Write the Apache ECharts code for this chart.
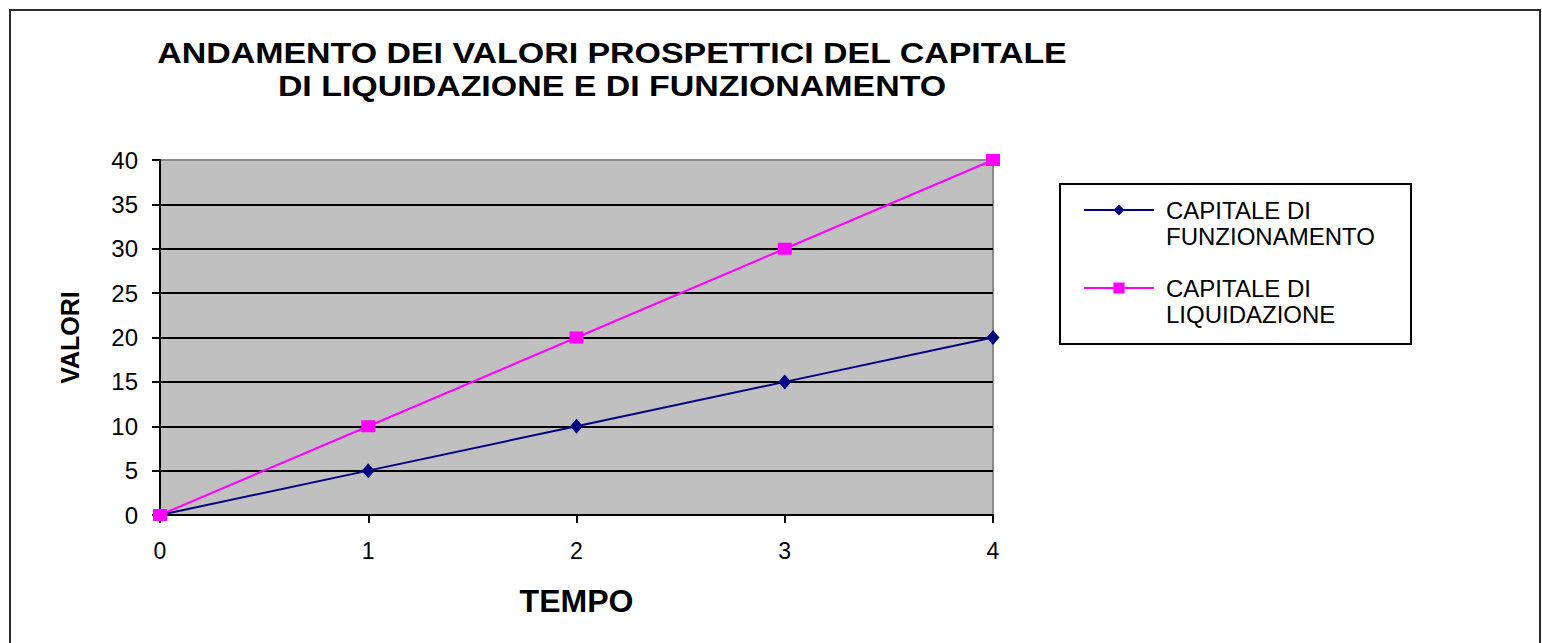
<!DOCTYPE html>
<html>
<head>
<meta charset="utf-8">
<title>Capitale di liquidazione e di funzionamento</title>
<script src="https://cdn.jsdelivr.net/npm/echarts@6/dist/echarts.min.js"></script>
<style>
  html, body { margin: 0; padding: 0; background: #ffffff; }
  #chart { width: 1542px; height: 643px; }
</style>
</head>
<body>
<div id="chart"></div>
<script>
// Time steps and prospective values of the two capitals
const tempo = [0, 1, 2, 3, 4];
const capitaleFunzionamento = [0, 5, 10, 15, 20];
const capitaleLiquidazione = [0, 10, 20, 30, 40];
const yTicks = [0, 5, 10, 15, 20, 25, 30, 35, 40];

const seriesNames = ['CAPITALE DI\nFUNZIONAMENTO', 'CAPITALE DI\nLIQUIDAZIONE'];
const titleText = 'ANDAMENTO DEI VALORI PROSPETTICI DEL CAPITALE\nDI LIQUIDAZIONE E DI FUNZIONAMENTO';

const FONT = '"Liberation Sans", Arial, Helvetica, sans-serif';

const pairs = (xs, ys) => xs.map((x, i) => [x, ys[i]]);

// Grid lines: black everywhere except the top edge, which is the grey frame
const splitColors = yTicks.map((v, i) => (i === yTicks.length - 1 ? '#8a8a8a' : '#000000'));

const chart = echarts.init(document.getElementById('chart'), null, { renderer: 'svg' });

chart.setOption({
  animation: false,
  backgroundColor: '#ffffff',
  textStyle: { fontFamily: FONT },
  graphic: [
    {
      type: 'rect',
      shape: { x: 10, y: 10, width: 1530, height: 720 },
      style: { fill: 'none', stroke: '#2a2a2a', lineWidth: 2 },
      silent: true
    },
    {
      // wide bold heading, stretched slightly horizontally
      type: 'text',
      x: 612,
      y: 36,
      scaleX: 1.17,
      style: {
        text: titleText,
        textAlign: 'center',
        textVerticalAlign: 'top',
        font: 'bold 29px ' + FONT,
        lineHeight: 33,
        fill: '#000000'
      }
    },
    {
      type: 'rect',
      shape: { x: 1060, y: 184, width: 351, height: 160 },
      style: { fill: 'none', stroke: '#000000', lineWidth: 2 },
      silent: true
    }
  ],
  grid: {
    left: 160,
    top: 160,
    right: 549,
    bottom: 128,
    show: true,
    backgroundColor: '#c0c0c0',
    borderColor: '#8a8a8a',
    borderWidth: 2
  },
  legend: {
    orient: 'vertical',
    left: 1083,
    top: 171,
    itemGap: 0,
    itemWidth: 70,
    itemHeight: 14,
    padding: 0,
    data: seriesNames,
    formatter: name => ' \n' + name,
    textStyle: {
      fontFamily: FONT,
      fontSize: 24,
      lineHeight: 26,
      color: '#000000',
      padding: [0, 0, 0, 7]
    }
  },
  xAxis: {
    type: 'value',
    min: 0,
    max: 4,
    interval: 1,
    name: 'TEMPO',
    nameLocation: 'middle',
    nameGap: 70,
    nameTextStyle: { fontFamily: FONT, fontSize: 32, fontWeight: 'bold', color: '#000000' },
    axisLine: { show: true, lineStyle: { color: '#000000', width: 2 } },
    axisTick: { show: true, inside: false, length: 8, lineStyle: { color: '#000000', width: 2 } },
    axisLabel: { margin: 24, fontSize: 23, color: '#000000', fontFamily: FONT },
    splitLine: { show: false }
  },
  yAxis: {
    type: 'value',
    min: 0,
    max: 40,
    interval: 5,
    name: 'VALORI',
    nameLocation: 'middle',
    nameGap: 78,
    nameTextStyle: { fontFamily: FONT, fontSize: 25, fontWeight: 'bold', color: '#000000' },
    axisLine: { show: true, lineStyle: { color: '#000000', width: 2 } },
    axisTick: { show: true, inside: false, length: 8, lineStyle: { color: '#000000', width: 2 } },
    axisLabel: { margin: 22, fontSize: 24, color: '#000000', fontFamily: FONT },
    splitLine: { show: true, lineStyle: { color: splitColors, width: 2 } }
  },
  series: [
    {
      name: seriesNames[0],
      type: 'line',
      data: pairs(tempo, capitaleFunzionamento),
      symbol: 'diamond',
      symbolSize: [13, 15],
      lineStyle: { color: '#000080', width: 2 },
      itemStyle: { color: '#000080' },
      z: 3
    },
    {
      name: seriesNames[1],
      type: 'line',
      data: pairs(tempo, capitaleLiquidazione),
      symbol: 'rect',
      symbolSize: [14, 12],
      lineStyle: { color: '#ff00ff', width: 2 },
      itemStyle: { color: '#ff00ff' },
      z: 4
    }
  ]
});
</script>
</body>
</html>
